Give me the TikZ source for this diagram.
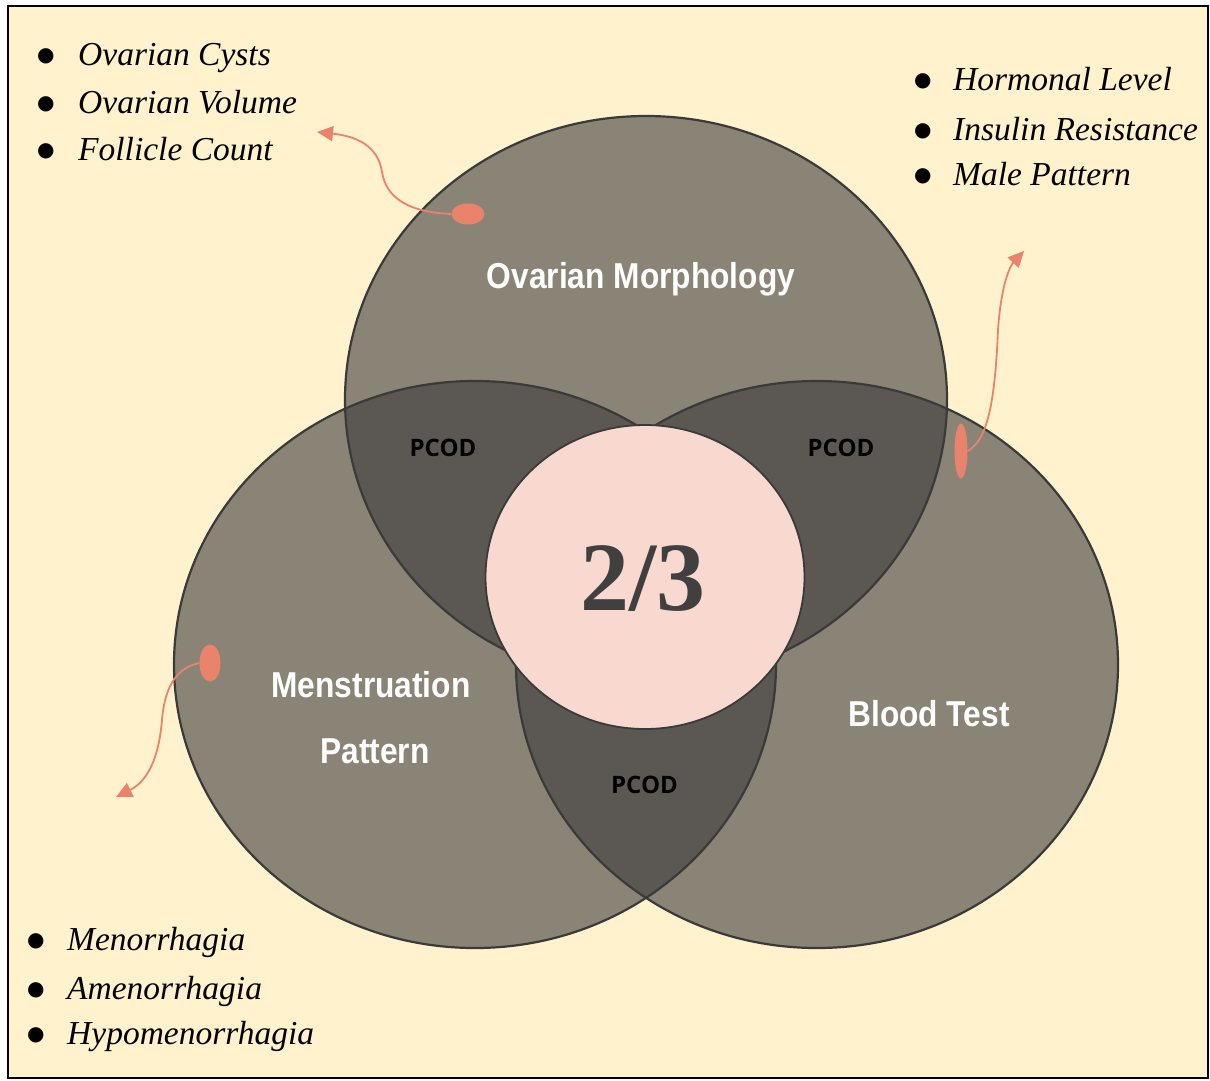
\documentclass[tikz,border=0pt]{standalone}
\usepackage{fontspec}
\setmainfont{Liberation Serif}
\newfontfamily\lblfont{Liberation Sans}[FakeStretch=0.88]
\newfontfamily\pcodfont{Open Sans}
\newfontfamily\symfont{DejaVu Sans}
\newcommand\bdot{\raisebox{4pt}{\symfont\upshape\fontsize{20}{20}\selectfont ●}}
\usetikzlibrary{arrows.meta,shapes.geometric}
\definecolor{bgyellow}{HTML}{FFF2CC}
\definecolor{circfill}{HTML}{8A8477}
\definecolor{lensfill}{HTML}{5B5752}
\definecolor{edgegray}{HTML}{3A3A3A}
\definecolor{pinkfill}{HTML}{F8D8CF}
\definecolor{salmon}{HTML}{E9836C}
\definecolor{numgray}{HTML}{404040}
\tikzset{
  setlabel/.style={font=\lblfont\bfseries\fontsize{36}{40}\selectfont, text=white, inner sep=0pt, anchor=base},
  pcodlabel/.style={font=\pcodfont\bfseries\fontsize{24}{26}\selectfont, text=black, inner sep=0pt, anchor=base},
  listitem/.style={font=\itshape\fontsize{33.5}{36}\selectfont, text=black, inner sep=0pt, anchor=base west},
  dotmark/.style={ellipse, fill=salmon, draw=none, inner sep=0pt},
  pointer/.style={draw=salmon, line width=1.8pt, -{Triangle[length=16pt,width=15pt]}}
}
\def\topC{(646,399.5) ellipse [x radius=301pt, y radius=283.5pt]}
\def\leftC{(475,664.5) ellipse [x radius=301pt, y radius=283.5pt]}
\def\rightC{(817,664.5) ellipse [x radius=301pt, y radius=283.5pt]}
\begin{document}
\begin{tikzpicture}[x=1pt,y=-1pt]
\useasboundingbox (0,0) rectangle (1210,1080);
\fill[white] (0,0) rectangle (1210,1080);
\draw[fill=bgyellow, draw=black, line width=1.5pt] (8,6) rectangle (1208,1078);
% circles
\fill[circfill] \topC;
\fill[circfill] \leftC;
\fill[circfill] \rightC;
\begin{scope}
  \clip \topC;
  \fill[lensfill] \leftC;
  \fill[lensfill] \rightC;
\end{scope}
\begin{scope}
  \clip \leftC;
  \fill[lensfill] \rightC;
\end{scope}
\draw[edgegray, line width=2.2pt] \topC;
\draw[edgegray, line width=2.2pt] \leftC;
\draw[edgegray, line width=2.2pt] \rightC;
% centre
\draw[edgegray, line width=1.8pt, fill=pinkfill] (645,577) ellipse [x radius=159.5pt, y radius=152pt];
\node[font=\bfseries\fontsize{98}{100}\selectfont, text=numgray, inner sep=0pt, anchor=base] (frac) at (643,610) {2/3};
% set labels
\node[setlabel] (ovm) at (641,288) {Ovarian Morphology};
\node[setlabel] (men1) at (371,697) {Menstruation};
\node[setlabel] (men2) at (375,763) {Pattern};
\node[setlabel] (blood) at (929,726) {Blood Test};
\node[pcodlabel] (p1) at (443,456) {PCOD};
\node[pcodlabel] (p2) at (841,456) {PCOD};
\node[pcodlabel] (p3) at (644.5,793) {PCOD};
% lists
\node[listitem] (a1) at (37,65) {\makebox[41pt][l]{\bdot}Ovarian Cysts};
\node[listitem] (a2) at (37,113) {\makebox[41pt][l]{\bdot}Ovarian Volume};
\node[listitem] (a3) at (37,160) {\makebox[41pt][l]{\bdot}Follicle Count};
\node[listitem] (b1) at (914,90) {\makebox[39pt][l]{\bdot}Hormonal Level};
\node[listitem] (b2) at (914,140) {\makebox[39pt][l]{\bdot}Insulin Resistance};
\node[listitem] (b3) at (914,185) {\makebox[39pt][l]{\bdot}Male Pattern};
\node[listitem] (c1) at (27,950) {\makebox[40pt][l]{\bdot}Menorrhagia};
\node[listitem] (c2) at (27,999) {\makebox[40pt][l]{\bdot}Amenorrhagia};
\node[listitem] (c3) at (27,1044) {\makebox[40pt][l]{\bdot}Hypomenorrhagia};
% pointers
\node[dotmark, minimum width=33pt, minimum height=21pt] (d1) at (468,214) {};
\node[dotmark, minimum width=13pt, minimum height=55pt] (d2) at (961,451) {};
\node[dotmark, minimum width=21pt, minimum height=37pt] (d3) at (210,663) {};
\coordinate (t1) at (317,132);
\coordinate (t2) at (1024,251);
\coordinate (t3) at (116,797);
\draw[pointer] (d1.west) .. controls (405,212) and (386,196) .. (382,172) .. controls (378,145) and (355,136) .. (t1);
\draw[pointer] (d2.east) .. controls (988,440) and (995,400) .. (998,330) .. controls (1001,285) and (1010,266) .. (t2);
\draw[pointer] (d3.west) .. controls (180,667) and (165,682) .. (162,720) .. controls (158,768) and (142,784) .. (t3);
\end{tikzpicture}
\end{document}
